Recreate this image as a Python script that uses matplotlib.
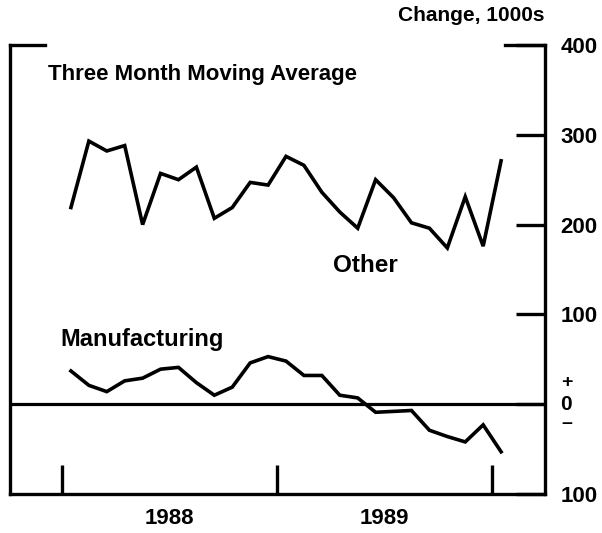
import matplotlib.pyplot as plt
import numpy as np

# monthly, Jan 1988 .. Jan 1990 (three month moving average, change in 1000s)
other = [219, 293, 282, 288, 200, 257, 250, 264, 207, 219, 247, 244, 276,
         266, 236, 214, 196, 250, 230, 202, 196, 174, 231, 176, 271]
manufacturing = [37, 21, 14, 26, 29, 39, 41, 24, 10, 19, 46, 53, 48,
                 32, 32, 10, 7, -9, -8, -7, -29, -36, -42, -23, -53]
year_labels = ["1988", "1989"]
ytick_vals = [-100, 0, 100, 200, 300, 400]
ytick_text = ["100", "", "100", "200", "300", "400"]

plt.rcParams['font.family'] = ['Liberation Sans', 'DejaVu Sans']
plt.rcParams['font.weight'] = 'bold'

fig = plt.figure(figsize=(6.02, 5.33), dpi=100)
W, H = 602, 533
ax = fig.add_axes([10 / W, 1 - 494 / H, 535 / W, 449 / H])

months = np.arange(len(other)) + 0.5
ax.plot(months, other, color='black', lw=2.6, solid_joinstyle='miter')
ax.plot(months, manufacturing, color='black', lw=2.6, solid_joinstyle='miter')
ax.axhline(0, color='black', lw=2.3)

ax.set_xlim(-2.9, 26.95)
ax.set_ylim(-100, 400)

for side in ['left', 'right', 'bottom']:
    ax.spines[side].set_linewidth(2.4)
ax.spines['top'].set_visible(False)

# short top segments
ax.plot([0, 35 / 535], [1, 1], transform=ax.transAxes, color='black',
        lw=2.4, clip_on=False, solid_capstyle='projecting')
ax.plot([1 - 40 / 535, 1], [1, 1], transform=ax.transAxes, color='black',
        lw=2.4, clip_on=False, solid_capstyle='projecting')

ax.yaxis.tick_right()
ax.set_yticks(ytick_vals)
ax.set_yticklabels(ytick_text)
ax.tick_params(axis='y', direction='in', length=21, width=2.4, pad=11,
               labelsize=16)

ax.set_xticks([0, 12, 24])
ax.set_xticklabels([])
ax.tick_params(axis='x', which='major', direction='in', length=21, width=2.4)
ax.set_xticks([6, 18], minor=True)
ax.set_xticklabels(year_labels, minor=True)
ax.tick_params(axis='x', which='minor', length=0, pad=10, labelsize=16)

# +0- marker at zero
tr = ax.get_yaxis_transform()
ax.text(1.04, 24, "+", transform=tr, ha='center', va='center', fontsize=14)
ax.text(1.04, 0, "0", transform=tr, ha='center', va='center', fontsize=15)
ax.text(1.04, -21, "\u2013", transform=tr, ha='center', va='center', fontsize=14)

ax.text(1.0, 1.066, "Change, 1000s", transform=ax.transAxes, ha='right',
        va='center', fontsize=15)
ax.text(-0.8, 367, "Three Month Moving Average", ha='left', va='center',
        fontsize=16)
ax.text(15.1, 155, "Other", ha='left', va='center', fontsize=17.5)
ax.text(-0.1, 72, "Manufacturing", ha='left', va='center', fontsize=17)

fig.savefig("out.png", dpi=100)
